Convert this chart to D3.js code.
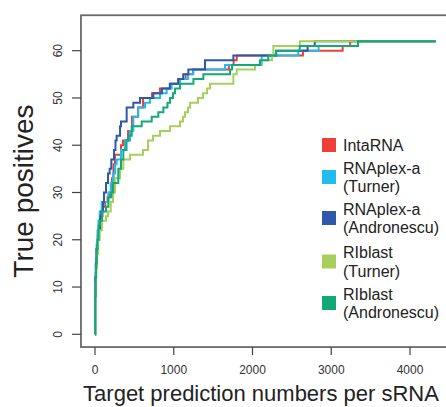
<!doctype html>
<html lang="en">
  <head>
    <meta charset="UTF-8" />
    <title>True positives vs target prediction numbers</title>
    <script src="https://unpkg.com/d3@7.9.0/dist/d3.min.js"></script>
    <style>
      body {
        margin: 0;
        background: #fff;
        font-family: 'Liberation Sans', Arial, sans-serif;
      }
      .tick-label {
        font-size: 12px;
        fill: #333;
      }
      .axis-title {
        fill: #222;
      }
      .legend text {
        font-size: 16px;
        fill: #222;
      }
      .curve {
        fill: none;
        stroke-width: 2px;
      }
    </style>
  </head>
  <body>
    <svg width="446" height="407"></svg>

    <script>
      // [prediction number, true positives] at each step
      const intaRNA = [
        [0, 0], [3, 8], [7, 12], [13, 15], [22, 18], [35, 21], [50, 23],
        [70, 25], [95, 27], [130, 28], [160, 29], [190, 30], [215, 33],
        [235, 36], [254, 38], [330, 40], [356, 41], [420, 43], [470, 46],
        [546, 48], [610, 50], [724, 51], [825, 52], [953, 53], [1054, 54],
        [1150, 55], [1245, 56], [1700, 57], [1760, 58], [1800, 59],
        [2640, 60], [3145, 61], [3240, 62], [4326, 62],
      ];
      const rnaplexTurner = [
        [0, 0], [3, 9], [7, 13], [12, 16], [20, 19], [32, 22], [45, 24],
        [60, 26], [85, 28], [169, 30], [200, 32], [230, 34], [255, 36],
        [275, 37], [330, 39], [381, 41], [445, 43], [487, 46], [550, 48],
        [635, 49], [699, 50], [826, 51], [910, 52], [974, 53], [1080, 54],
        [1180, 55], [1249, 56], [1651, 57], [2117, 59], [2582, 60],
        [2840, 61], [3340, 62], [4326, 62],
      ];
      const rnaplexAndronescu = [
        [0, 0], [2, 8], [5, 12], [10, 15], [20, 18], [35, 20], [51, 22],
        [67, 25], [80, 26], [102, 28], [114, 30], [140, 32], [165, 34],
        [186, 35], [207, 37], [241, 39], [260, 41], [275, 42], [318, 44],
        [330, 45], [402, 48], [487, 49], [572, 50], [741, 51], [850, 52],
        [950, 53], [1058, 54], [1120, 55], [1185, 56], [1397, 58],
        [1757, 59], [2300, 60], [2700, 61], [2790, 62], [4326, 62],
      ];
      const riblastTurner = [
        [0, 0], [3, 7], [8, 11], [15, 14], [25, 17], [40, 20], [60, 22],
        [90, 24], [140, 25], [165, 26], [200, 28], [229, 30], [254, 33],
        [318, 35], [360, 37], [445, 38], [610, 39], [673, 41], [737, 42],
        [826, 43], [953, 44], [1080, 45], [1118, 46], [1143, 47],
        [1181, 48], [1207, 49], [1308, 50], [1372, 51], [1422, 52],
        [1460, 53], [1757, 55], [1800, 56], [2032, 57], [2100, 58],
        [2248, 59], [2265, 61], [2604, 62], [4326, 62],
      ];
      const riblastAndronescu = [
        [0, 0], [3, 8], [8, 12], [14, 15], [22, 18], [32, 20], [45, 23],
        [60, 24], [90, 26], [140, 27], [170, 29], [207, 30], [230, 32],
        [296, 35], [330, 37], [360, 39], [400, 41], [423, 42], [466, 44],
        [593, 45], [720, 46], [804, 47], [868, 48], [920, 49], [953, 50],
        [990, 51], [1016, 52], [1080, 53], [1250, 54], [1376, 55],
        [1714, 56], [1740, 57], [2095, 58], [2200, 59], [2300, 60],
        [2600, 61], [3340, 62], [4326, 62],
      ];

      const seriesNames = [
        ['IntaRNA'],
        ['RNAplex-a', '(Turner)'],
        ['RNAplex-a', '(Andronescu)'],
        ['RIblast', '(Turner)'],
        ['RIblast', '(Andronescu)'],
      ];
      const seriesValues = [
        intaRNA,
        rnaplexTurner,
        rnaplexAndronescu,
        riblastTurner,
        riblastAndronescu,
      ];
      const colors = ['#ee4036', '#22bdf0', '#2f58a8', '#a6d05a', '#13a877'];

      const xTicks = [0, 1000, 2000, 3000, 4000];
      const yTicks = [0, 10, 20, 30, 40, 50, 60];

      const svg = d3.select('svg');

      // plot box limits in data units (right edge runs past the picture)
      const xLim = [-178, 4630];
      const yLim = [-2.7, 67.5];

      const x = d3.scaleLinear().domain([0, 4000]).range([95, 410]);
      const y = d3.scaleLinear().domain([0, 60]).range([334.3, 50.7]);

      // box
      svg
        .append('rect')
        .attr('x', x(xLim[0]))
        .attr('y', y(yLim[1]))
        .attr('width', x(xLim[1]) - x(xLim[0]))
        .attr('height', y(yLim[0]) - y(yLim[1]))
        .attr('fill', 'none')
        .attr('stroke', '#6a6a6a')
        .attr('stroke-width', 1.8);

      // y axis ticks + rotated labels
      const yAxis = svg.append('g');
      yTicks.forEach((t) => {
        yAxis
          .append('line')
          .attr('x1', x(xLim[0]) - 9)
          .attr('x2', x(xLim[0]))
          .attr('y1', y(t))
          .attr('y2', y(t))
          .attr('stroke', '#444')
          .attr('stroke-width', 1.2);
        yAxis
          .append('text')
          .attr('class', 'tick-label')
          .attr('transform', `translate(62,${y(t)}) rotate(-90)`)
          .attr('text-anchor', 'middle')
          .text(t);
      });

      // x axis ticks + labels
      const xAxis = svg.append('g');
      xTicks.forEach((t) => {
        xAxis
          .append('line')
          .attr('x1', x(t))
          .attr('x2', x(t))
          .attr('y1', y(yLim[0]))
          .attr('y2', y(yLim[0]) + 8)
          .attr('stroke', '#444')
          .attr('stroke-width', 1.2);
        xAxis
          .append('text')
          .attr('class', 'tick-label')
          .attr('x', x(t))
          .attr('y', 374)
          .attr('text-anchor', 'middle')
          .text(t);
      });

      // axis titles
      svg
        .append('text')
        .attr('class', 'axis-title')
        .attr('x', 261)
        .attr('y', 401)
        .attr('text-anchor', 'middle')
        .style('font-size', '22px')
        .text('Target prediction numbers per sRNA');

      svg
        .append('text')
        .attr('class', 'axis-title')
        .attr('transform', 'translate(33,191) rotate(-90)')
        .attr('text-anchor', 'middle')
        .style('font-size', '28px')
        .text('True positives');

      // step curves
      const line = d3
        .line()
        .x((d) => x(d[0]))
        .y((d) => y(d[1]))
        .curve(d3.curveStepAfter);

      svg
        .append('g')
        .selectAll('path')
        .data(seriesValues)
        .enter()
        .append('path')
        .attr('class', 'curve')
        .attr('stroke', (d, i) => colors[i])
        .attr('d', line);

      // legend
      const legendY = [145, 177, 218, 261.5, 303];
      const legend = svg.append('g').attr('class', 'legend');
      seriesNames.forEach((lines, i) => {
        const row = legend
          .append('g')
          .attr('transform', `translate(322,${legendY[i]})`);
        row
          .append('rect')
          .attr('x', 0)
          .attr('y', -7)
          .attr('width', 14)
          .attr('height', 14)
          .attr('fill', colors[i]);
        const t = row
          .append('text')
          .attr('x', 21)
          .attr('y', lines.length === 1 ? 5.6 : -3.5);
        lines.forEach((s, j) => {
          t.append('tspan')
            .attr('x', 21)
            .attr('dy', j === 0 ? 0 : 18.5)
            .text(s);
        });
      });
    </script>
  </body>
</html>
